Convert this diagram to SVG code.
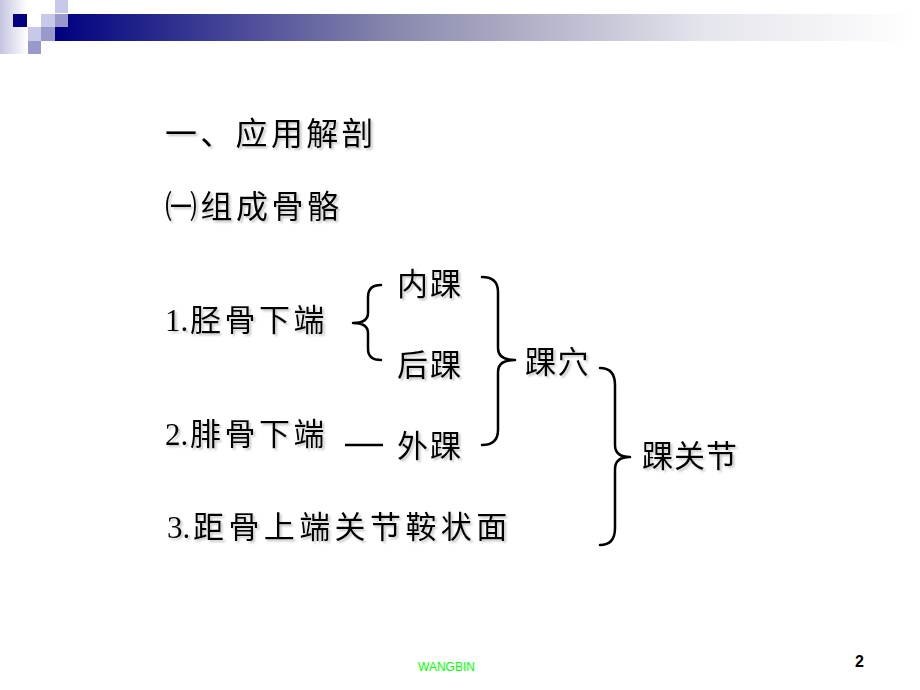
<svg xmlns="http://www.w3.org/2000/svg" width="920" height="690" viewBox="0 0 920 690">
  <defs>
    <linearGradient id="bar" x1="0" y1="0" x2="1" y2="0">
      <stop offset="0" stop-color="#000080"/>
      <stop offset="0.4" stop-color="#8a8aae"/>
      <stop offset="0.75" stop-color="#e4e4ec"/>
      <stop offset="1" stop-color="#ffffff"/>
    </linearGradient>
    <linearGradient id="strip" x1="0" y1="0" x2="1" y2="0">
      <stop offset="0" stop-color="#c4c4e2"/>
      <stop offset="1" stop-color="#ffffff"/>
    </linearGradient>
    <filter id="sh" x="-5%" y="-20%" width="115%" height="150%">
      <feDropShadow dx="2" dy="2" stdDeviation="1" flood-color="#808080" flood-opacity="0.45"/>
    </filter>
    <style>
      .t { font-family: "Liberation Serif", "Noto Sans CJK SC", serif; font-size: 31px; fill: #000; filter: url(#sh); }
      .h { font-size: 32px; }
      .br { fill: none; stroke: #000; stroke-width: 2.5; stroke-linecap: round; stroke-linejoin: round; }
      .lt { fill: #c8c8e8; }
      .md { fill: #9999cc; }
    </style>
  </defs>
  <rect width="920" height="690" fill="#ffffff"/>

  <g id="header">
    <rect x="0" y="0" width="27" height="54" fill="url(#strip)"/>
    <rect x="55" y="14" width="862" height="27" fill="url(#bar)"/>
    <rect x="13" y="14" width="14" height="13" fill="#000080"/>
    <rect class="lt" x="55" y="0" width="13" height="13"/>
    <rect class="lt" x="41" y="14" width="14" height="13"/>
    <rect class="md" x="55" y="14" width="13" height="13"/>
    <rect class="lt" x="28" y="27" width="13" height="14"/>
    <rect class="md" x="41" y="27" width="14" height="14"/>
    <rect class="md" x="28" y="41" width="13" height="13"/>
  </g>

  <g id="title"><text class="t h" x="165" y="145" letter-spacing="3.3">一、应用解剖</text></g>
  <g id="subtitle"><text class="t h" x="165" y="218" letter-spacing="3.5">㈠组成骨骼</text></g>

  <g id="n1"><text class="t" y="331"><tspan x="165">1.</tspan><tspan x="190" letter-spacing="3.5">胫骨下端</tspan></text></g>
  <g id="n2"><text class="t" y="445"><tspan x="165">2.</tspan><tspan x="190" letter-spacing="3.5">腓骨下端</tspan></text></g>
  <g id="n3"><text class="t" y="538"><tspan x="167">3.</tspan><tspan x="193" letter-spacing="4.4">距骨上端关节鞍状面</tspan></text></g>
  <g id="neihuai"><text class="t" x="397" y="295" letter-spacing="2">内踝</text></g>
  <g id="houhuai"><text class="t" x="397" y="376" letter-spacing="2">后踝</text></g>
  <g id="waihuai"><text class="t" x="397" y="457" letter-spacing="2">外踝</text></g>
  <g id="huaixue"><text class="t" x="525" y="373" letter-spacing="1.5">踝穴</text></g>
  <g id="huaiguanjie"><text class="t" x="642" y="467" letter-spacing="1">踝关节</text></g>

  <g id="connectors">
    <path class="br" d="M381,285 Q368,285 368,297 L368,313 Q368,323 353,323 Q368,323 368,333 L368,349 Q368,360 381,360"/>
    <line x1="345" y1="445" x2="383" y2="445" stroke="#000" stroke-width="2.5"/>
    <path class="br" d="M482,277 Q498,277 498,292 L498,348 Q498,360 515,360 Q498,360 498,372 L498,430 Q498,445 482,445"/>
    <path class="br" d="M600,368 Q615,368 615,385 L615,445 Q615,457 630,457 Q615,457 615,469 L615,528 Q615,545 600,545"/>
  </g>

  <g id="footer">
    <text x="418" y="671" font-family="Liberation Sans, Arial, sans-serif" font-size="12" fill="#00ff00">WANGBIN</text>
    <text x="855" y="667" font-family="Liberation Sans, Arial, sans-serif" font-size="16" font-weight="bold" fill="#000">2</text>
  </g>
</svg>
